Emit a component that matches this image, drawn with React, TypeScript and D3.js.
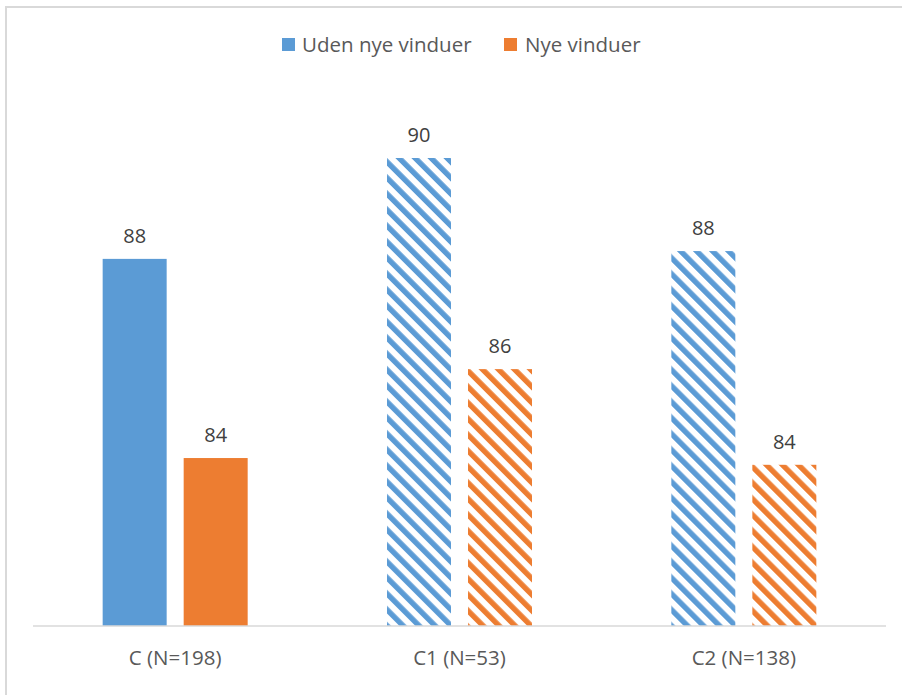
import React from "react";
import * as d3 from "d3";

const categories = ["C (N=198)", "C1 (N=53)", "C2 (N=138)"];
const seriesNames = ["Uden nye vinduer", "Nye vinduer"];
const udenValues = [88.06, 90.0, 88.21];
const nyeValues = [84.23, 85.94, 84.1];
const hatchedCategory = [false, true, true];
const seriesColors = ["#5B9BD5", "#ED7D31"];

const W = 902;
const H = 695;
const FONT = "'Open Sans', 'Noto Sans', sans-serif";

export default function App() {
  const x0 = d3.scaleBand<string>().domain(categories).range([33, 886]).padding(0);
  const x1 = d3
    .scaleBand<string>()
    .domain(seriesNames)
    .range([0, x0.step()])
    .paddingInner(0.21)
    .paddingOuter(0.86);
  const y = d3.scaleLinear().domain([81, 91.5]).range([626, 80]);
  const fmt = d3.format(".0f");
  const seriesValues = [udenValues, nyeValues];

  return (
    <svg
      width={W}
      height={H}
      style={{ position: "absolute", left: 0, top: 0, background: "#fff" }}
    >
      <defs>
        {seriesColors.map((c, i) => (
          <pattern
            key={i}
            id={`hatch${i}`}
            patternUnits="userSpaceOnUse"
            width={11.31}
            height={11.31}
            patternTransform="rotate(-45)"
          >
            <rect width={11.31} height={11.31} fill="#fff" />
            <rect width={5.4} height={11.31} fill={c} />
          </pattern>
        ))}
      </defs>
      <rect x={0} y={0} width={W} height={H} fill="#fff" />
      <rect x={6} y={7} width={W + 20} height={H + 20} fill="none" stroke="#d9d9d9" strokeWidth={2} />

      {/* legend */}
      <g fontFamily={FONT} fontSize={20.5} fill="#595959">
        <rect x={282} y={38} width={13} height={13} fill={seriesColors[0]} />
        <text x={302} y={52}>{seriesNames[0]}</text>
        <rect x={504} y={38} width={13} height={13} fill={seriesColors[1]} />
        <text x={525} y={52}>{seriesNames[1]}</text>
      </g>

      {/* bars */}
      {categories.map((cat, ci) => (
        <g key={cat} transform={`translate(${x0(cat)},0)`}>
          {seriesNames.map((s, si) => {
            const v = seriesValues[si][ci];
            const bx = x1(s)!;
            const by = y(v);
            return (
              <g key={s}>
                <rect
                  x={bx}
                  y={by}
                  width={x1.bandwidth()}
                  height={y(81) - by}
                  fill={hatchedCategory[ci] ? `url(#hatch${si})` : seriesColors[si]}
                />
                <text
                  x={bx + x1.bandwidth() / 2}
                  y={by - 16}
                  textAnchor="middle"
                  fontFamily={FONT}
                  fontSize={20}
                  fill="#404040"
                >
                  {fmt(v)}
                </text>
              </g>
            );
          })}
        </g>
      ))}

      {/* axis */}
      <line x1={33} x2={886} y1={626} y2={626} stroke="#d9d9d9" strokeWidth={1.5} />
      {categories.map((cat) => (
        <text
          key={cat}
          x={x0(cat)! + x0.bandwidth() / 2}
          y={665}
          textAnchor="middle"
          fontFamily={FONT}
          fontSize={20.5}
          fill="#595959"
        >
          {cat}
        </text>
      ))}
    </svg>
  );
}
